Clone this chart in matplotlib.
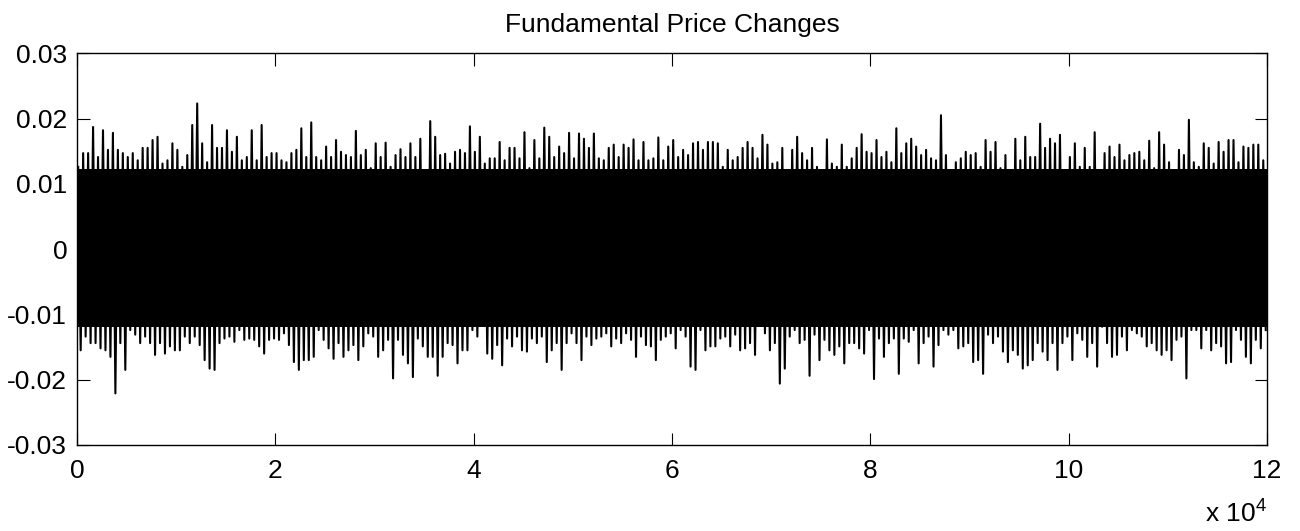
import numpy as np
import matplotlib
matplotlib.use("Agg")
import matplotlib.pyplot as plt

plt.rcParams['font.family'] = ['Liberation Sans', 'DejaVu Sans']
plt.rcParams['mathtext.fontset'] = 'custom'
plt.rcParams['mathtext.rm'] = 'Liberation Sans'

# peak price change (x 1e-3) in each window of 500 steps
upper_peaks = [
    12.6, 14.7, 14.7, 18.7, 14.1, 18.2, 15.2, 17.8, 15.2, 14.7,
    14.1, 14.7, 13.6, 15.5, 15.5, 16.7, 17.2, 13.1, 13.6, 16.2,
    15.2, 12.6, 14.4, 19.0, 22.3, 16.2, 13.3, 19.0, 15.5, 15.5,
    18.2, 14.9, 17.2, 13.6, 14.1, 18.2, 13.6, 19.0, 14.1, 14.7,
    14.7, 13.6, 13.3, 14.7, 15.2, 18.5, 14.1, 19.4, 14.1, 13.6,
    15.7, 14.1, 16.7, 14.9, 14.4, 14.1, 18.1, 14.4, 15.2, 12.4,
    16.2, 14.1, 16.3, 12.6, 14.4, 15.3, 14.1, 16.2, 14.1, 16.9,
    11.6, 19.6, 17.2, 14.4, 14.6, 13.1, 14.9, 15.2, 14.7, 18.8,
    14.9, 17.2, 13.1, 13.9, 13.9, 16.4, 13.6, 15.5, 15.5, 13.9,
    17.9, 12.4, 16.7, 13.9, 18.6, 17.2, 14.1, 15.7, 14.7, 17.8,
    13.9, 17.7, 16.9, 15.5, 17.7, 13.9, 13.6, 15.5, 16.0, 14.1,
    16.0, 15.5, 16.8, 13.6, 16.4, 13.6, 13.9, 17.1, 13.6, 15.7,
    16.7, 14.1, 15.2, 14.4, 16.2, 16.4, 15.2, 16.4, 16.4, 16.2,
    12.6, 15.2, 13.6, 14.1, 15.5, 16.4, 15.5, 13.9, 17.5, 16.0,
    13.1, 13.3, 15.5, 11.1, 15.2, 17.2, 14.7, 13.6, 15.5, 12.6,
    11.6, 16.8, 13.1, 12.6, 16.0, 12.6, 13.9, 15.5, 17.6, 14.9,
    14.7, 16.7, 14.1, 14.9, 13.3, 18.5, 14.7, 16.2, 16.9, 15.7,
    14.4, 15.2, 13.9, 13.6, 20.5, 14.4, 11.6, 13.3, 13.9, 14.9,
    14.4, 14.7, 12.6, 16.7, 14.9, 16.4, 12.4, 14.4, 10.6, 16.9,
    13.6, 17.2, 14.1, 14.1, 19.2, 15.5, 16.9, 16.2, 17.5, 12.1,
    14.1, 16.2, 12.6, 15.5, 12.6, 17.9, 11.6, 14.7, 15.7, 14.1,
    16.0, 13.6, 14.4, 14.7, 14.9, 13.6, 16.6, 12.4, 17.9, 16.0,
    13.3, 11.3, 15.2, 14.4, 19.8, 13.3, 12.6, 16.2, 15.5, 13.1,
    16.4, 14.9, 16.7, 16.7, 13.3, 15.7, 15.5, 16.0, 16.0, 13.6,
]
lower_peaks = [
    -15.5, -13.4, -14.4, -14.4, -15.2, -15.5, -16.5, -22.1, -14.4, -18.5,
    -12.4, -13.1, -14.4, -13.4, -14.4, -16.2, -14.4, -16.0, -14.9, -15.5,
    -15.5, -13.4, -14.4, -13.4, -14.7, -17.0, -18.3, -18.5, -14.4, -13.7,
    -13.4, -14.2, -12.4, -13.9, -13.7, -13.9, -14.9, -16.0, -13.9, -13.7,
    -13.9, -12.9, -14.7, -17.3, -18.5, -17.0, -17.0, -16.5, -12.4, -13.9,
    -15.2, -16.8, -14.4, -16.5, -15.5, -14.7, -17.0, -14.9, -12.9, -13.4,
    -16.5, -15.5, -13.9, -19.8, -13.9, -16.2, -17.5, -19.6, -13.7, -14.9,
    -16.5, -16.5, -19.4, -16.5, -14.4, -14.7, -17.5, -15.5, -15.5, -12.4,
    -13.4, -11.4, -16.0, -16.8, -14.7, -17.8, -13.7, -14.9, -13.4, -15.5,
    -15.7, -13.7, -14.4, -13.4, -17.3, -15.5, -14.4, -18.5, -14.4, -12.9,
    -14.4, -17.0, -13.4, -14.7, -13.7, -13.4, -12.9, -14.9, -13.7, -14.4,
    -12.9, -13.9, -16.5, -13.4, -14.7, -14.9, -17.0, -13.9, -13.4, -12.9,
    -15.2, -12.4, -13.4, -18.0, -18.5, -12.4, -15.5, -14.9, -14.9, -13.7,
    -13.4, -14.9, -13.1, -15.5, -15.2, -14.4, -16.2, -11.4, -12.9, -15.5,
    -14.4, -20.6, -18.3, -13.4, -12.4, -14.4, -13.9, -19.4, -13.1, -17.0,
    -13.9, -15.5, -16.2, -14.9, -17.5, -14.4, -14.4, -15.2, -16.0, -12.4,
    -19.9, -13.7, -16.5, -14.4, -13.7, -19.1, -13.7, -14.2, -12.4, -17.5,
    -14.4, -13.4, -18.0, -14.7, -12.4, -13.1, -12.4, -15.2, -14.9, -14.4,
    -17.3, -17.0, -19.1, -13.1, -14.4, -13.4, -15.7, -17.3, -15.5, -16.2,
    -18.3, -17.8, -17.0, -14.4, -15.7, -17.0, -14.4, -18.5, -14.4, -13.4,
    -17.0, -12.9, -13.9, -16.5, -14.4, -18.0, -11.9, -14.4, -16.5, -16.2,
    -13.4, -15.5, -12.4, -12.9, -13.4, -14.9, -14.4, -15.5, -16.2, -15.5,
    -17.0, -13.9, -13.4, -19.8, -12.4, -12.4, -15.2, -12.4, -15.5, -14.4,
    -14.9, -17.5, -17.3, -12.4, -13.9, -16.5, -17.5, -13.9, -15.2, -12.4,
]
# bulk of the changes sits inside this band (x 1e-3)
band_top = 12.3
band_bottom = -12.0

n_steps = 120000
window = 500

up = np.array(upper_peaks) * 1e-3
lo = np.array(lower_peaks) * 1e-3
starts = np.arange(len(up)) * window

# interleave the peaks into one series, like the raw trace going up and down
x = np.empty(2 * len(up))
y = np.empty(2 * len(up))
x[0::2] = starts + window * 0.25
x[1::2] = starts + window * 0.75
y[0::2] = up
y[1::2] = lo

fig = plt.figure(figsize=(13, 5.31), dpi=100)
ax = fig.add_axes([0.0592, 0.162, 0.9154, 0.7378])

ax.fill_between([0, n_steps], band_bottom * 1e-3, band_top * 1e-3,
                color='black', linewidth=0)
ax.plot(x, y, color='black', linewidth=1.5)

ax.set_xlim(0, n_steps)
ax.set_ylim(-0.03, 0.03)
ax.set_xticks(np.arange(0, 120001, 20000))
ax.set_xticklabels([str(v) for v in range(0, 13, 2)])
ax.set_yticks([-0.03, -0.02, -0.01, 0, 0.01, 0.02, 0.03])
ax.set_yticklabels(['-0.03', '-0.02', '-0.01', '0', '0.01', '0.02', '0.03'])
ax.tick_params(direction='in', length=9, width=0.8, labelsize=19,
               top=True, right=True, pad=7)
ax.tick_params(axis='x', pad=10)
for s in ax.spines.values():
    s.set_linewidth(1.0)

ax.set_title('Fundamental Price Changes', fontsize=19, pad=15)
ax.text(1.0, -0.196, 'x 10$^{4}$', transform=ax.transAxes,
        ha='right', va='baseline', fontsize=19)

fig.savefig('out.png', dpi=100)
